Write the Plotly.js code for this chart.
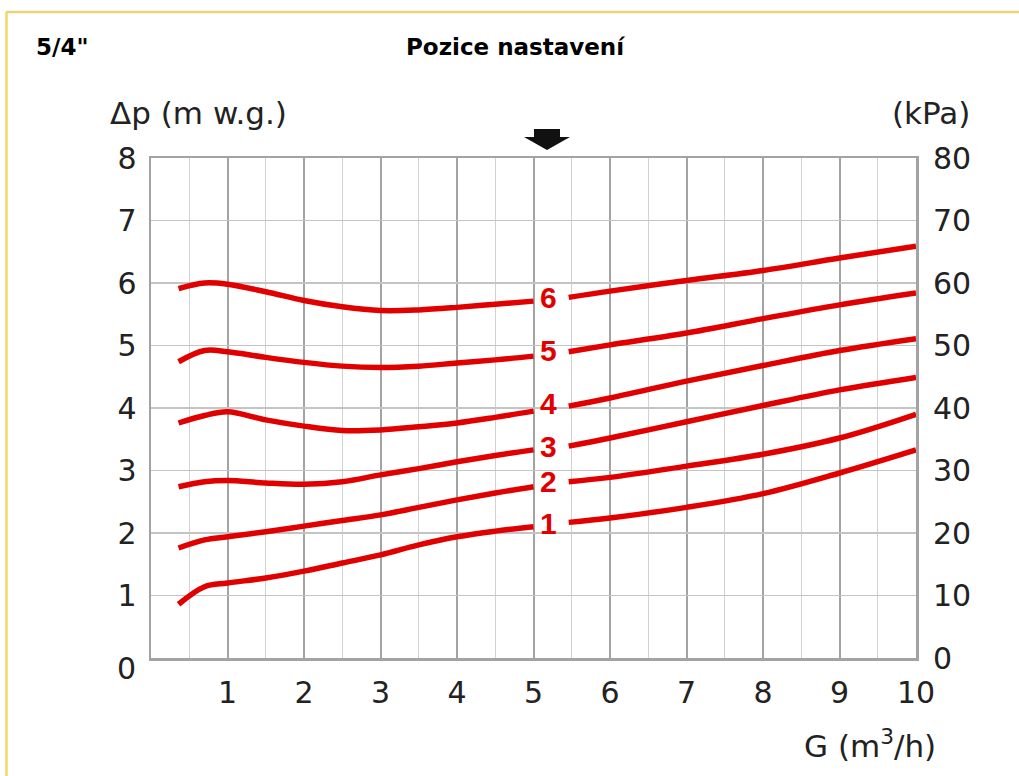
<!DOCTYPE html>
<html>
<head>
<meta charset="utf-8">
<script src="https://cdn.plot.ly/plotly-3.0.1.min.js"></script>
<style>html,body{margin:0;padding:0;background:#fff;}#chart{width:1019px;height:776px;}</style>
</head>
<body>
<div id="chart"></div>
<script>
// Flow G (m3/h) sample points, left of the label gap and right of it
const gLeft  = [0.36, 0.7, 1.0, 1.5, 2.0, 2.5, 3.0, 3.5, 4.0, 4.5, 5.0];
const gRight = [5.46, 6, 7, 8, 9, 10];

// Pressure drop (m w.g.) per setting position
const pos1Left  = [0.86, 1.14, 1.20, 1.28, 1.39, 1.52, 1.65, 1.81, 1.94, 2.03, 2.10];
const pos1Right = [2.17, 2.24, 2.41, 2.63, 2.96, 3.33];
const pos2Left  = [1.76, 1.89, 1.94, 2.02, 2.11, 2.20, 2.29, 2.41, 2.53, 2.64, 2.74];
const pos2Right = [2.82, 2.89, 3.07, 3.26, 3.52, 3.90];
const pos3Left  = [2.74, 2.82, 2.84, 2.80, 2.78, 2.82, 2.93, 3.03, 3.14, 3.24, 3.33];
const pos3Right = [3.39, 3.52, 3.78, 4.04, 4.29, 4.49];
const pos4Left  = [3.76, 3.88, 3.94, 3.81, 3.71, 3.64, 3.65, 3.70, 3.76, 3.85, 3.95];
const pos4Right = [4.03, 4.16, 4.43, 4.68, 4.92, 5.11];
const pos5Left  = [4.74, 4.92, 4.90, 4.81, 4.73, 4.67, 4.65, 4.67, 4.72, 4.77, 4.83];
const pos5Right = [4.90, 5.01, 5.20, 5.43, 5.65, 5.84];
const pos6Left  = [5.91, 6.00, 5.98, 5.86, 5.72, 5.62, 5.56, 5.57, 5.61, 5.66, 5.71];
const pos6Right = [5.77, 5.87, 6.04, 6.20, 6.40, 6.59];

const positionLabels = ["1", "2", "3", "4", "5", "6"];
const labelG = 5.2;
const labelDp = [2.15, 2.82, 3.39, 4.07, 4.92, 5.77];

const xTickVals = [1, 2, 3, 4, 5, 6, 7, 8, 9, 10];
const yTickVals = [1, 2, 3, 4, 5, 6, 7, 8];
const kpaTickVals = [0, 10, 20, 30, 40, 50, 60, 70, 80];

const series = [
  [pos1Left, pos1Right], [pos2Left, pos2Right], [pos3Left, pos3Right],
  [pos4Left, pos4Right], [pos5Left, pos5Right], [pos6Left, pos6Right]
];

const RED = '#e10000';
const TXT = '#222222';
const FONT = '"DejaVu Sans", sans-serif';

const traces = series.map((s, i) => ({
  type: 'scatter', mode: 'lines',
  x: gLeft.concat([null], gRight),
  y: s[0].concat([null], s[1]),
  connectgaps: false,
  line: {color: RED, width: 5.5, shape: 'spline', smoothing: 1},
  hoverinfo: 'skip', showlegend: false, name: positionLabels[i]
}));
// invisible trace to activate right axis
traces.push({type: 'scatter', mode: 'lines', x: [0, 10], y: [0, 80], yaxis: 'y2',
  line: {color: 'rgba(0,0,0,0)'}, hoverinfo: 'skip', showlegend: false});

const annotations = positionLabels.map((t, i) => ({
  x: labelG, y: labelDp[i], xref: 'x', yref: 'y', text: t, showarrow: false,
  font: {family: '"Liberation Sans", Arial, sans-serif', size: 30, color: RED, weight: 'bold'},
  xanchor: 'center', yanchor: 'middle'
}));

function px(v) { return (v - 151) / 765; }
function py(v) { return (658 - v) / 500; }

annotations.push(
  {xref: 'paper', yref: 'paper', x: px(34), y: py(47), xanchor: 'left', yanchor: 'middle',
   text: '<b>5/4"</b>', showarrow: false, font: {family: FONT, size: 23, color: '#000'}},
  {xref: 'paper', yref: 'paper', x: px(515), y: py(47), xanchor: 'center', yanchor: 'middle',
   text: '<b>Pozice nastavení</b>', showarrow: false, font: {family: FONT, size: 23, color: '#000'}},
  {xref: 'paper', yref: 'paper', x: px(108), y: py(113), xanchor: 'left', yanchor: 'middle',
   text: 'Δp (m w.g.)', showarrow: false, font: {family: FONT, size: 31, color: TXT}},
  {xref: 'paper', yref: 'paper', x: px(972), y: py(113), xanchor: 'right', yanchor: 'middle',
   text: '(kPa)', showarrow: false, font: {family: FONT, size: 31, color: TXT}},
  {xref: 'paper', yref: 'paper', x: px(938), y: py(744), xanchor: 'right', yanchor: 'middle',
   text: 'G (m<sup>3</sup>/h)', showarrow: false, font: {family: FONT, size: 31, color: TXT}},
  {xref: 'paper', yref: 'paper', x: px(138), y: py(668), xanchor: 'right', yanchor: 'middle',
   text: '0', showarrow: false, font: {family: FONT, size: 30, color: TXT}}
);

const shapes = [
  {type: 'line', xref: 'paper', yref: 'paper', x0: px(6), x1: px(1019), y0: py(12), y1: py(12),
   line: {color: '#e8d47c', width: 2.5}},
  {type: 'line', xref: 'paper', yref: 'paper', x0: px(6.5), x1: px(6.5), y0: py(12), y1: py(776),
   line: {color: '#f3d66a', width: 2.5}},
  {type: 'path', xref: 'paper', yref: 'paper',
   path: 'M ' + px(534) + ',' + py(129) + ' L ' + px(560) + ',' + py(129) + ' L ' + px(560) + ',' + py(137) +
         ' L ' + px(570) + ',' + py(137) + ' L ' + px(547) + ',' + py(150) + ' L ' + px(524) + ',' + py(137) +
         ' L ' + px(534) + ',' + py(137) + ' Z',
   fillcolor: '#111', line: {width: 0}}
];

const layout = {
  width: 1019, height: 776,
  margin: {l: 151, r: 103, t: 158, b: 118, pad: 0},
  paper_bgcolor: '#fff', plot_bgcolor: '#fff',
  font: {family: FONT, color: TXT},
  showlegend: false,
  xaxis: {
    range: [0, 10], tickmode: 'array', tickvals: xTickVals,
    ticks: 'outside', ticklen: 6, tickcolor: 'rgba(0,0,0,0)',
    tickfont: {family: FONT, size: 30, color: TXT},
    showgrid: true, gridcolor: '#a3a3a3', gridwidth: 2,
    minor: {tickmode: 'linear', tick0: 0, dtick: 0.5, showgrid: true, gridcolor: '#d2d2d2', gridwidth: 1, ticks: ''},
    showline: true, linecolor: '#a3a3a3', linewidth: 2.5, mirror: true,
    zeroline: false, fixedrange: true
  },
  yaxis: {
    range: [0, 8], tickmode: 'array', tickvals: yTickVals,
    ticks: 'outside', ticklen: 6, tickcolor: 'rgba(0,0,0,0)',
    tickfont: {family: FONT, size: 30, color: TXT},
    showgrid: true, gridcolor: '#c4c4c4', gridwidth: 1.5,
    showline: true, linecolor: '#a3a3a3', linewidth: 2.5, mirror: true,
    zeroline: false, fixedrange: true
  },
  yaxis2: {
    range: [0, 80], overlaying: 'y', side: 'right', tickmode: 'array', tickvals: kpaTickVals,
    ticks: 'outside', ticklen: 10, tickcolor: 'rgba(0,0,0,0)',
    tickfont: {family: FONT, size: 30, color: TXT},
    showgrid: false, zeroline: false, showline: false, fixedrange: true
  },
  annotations: annotations,
  shapes: shapes
};

Plotly.newPlot('chart', traces, layout, {staticPlot: true, displayModeBar: false});
</script>
</body>
</html>
